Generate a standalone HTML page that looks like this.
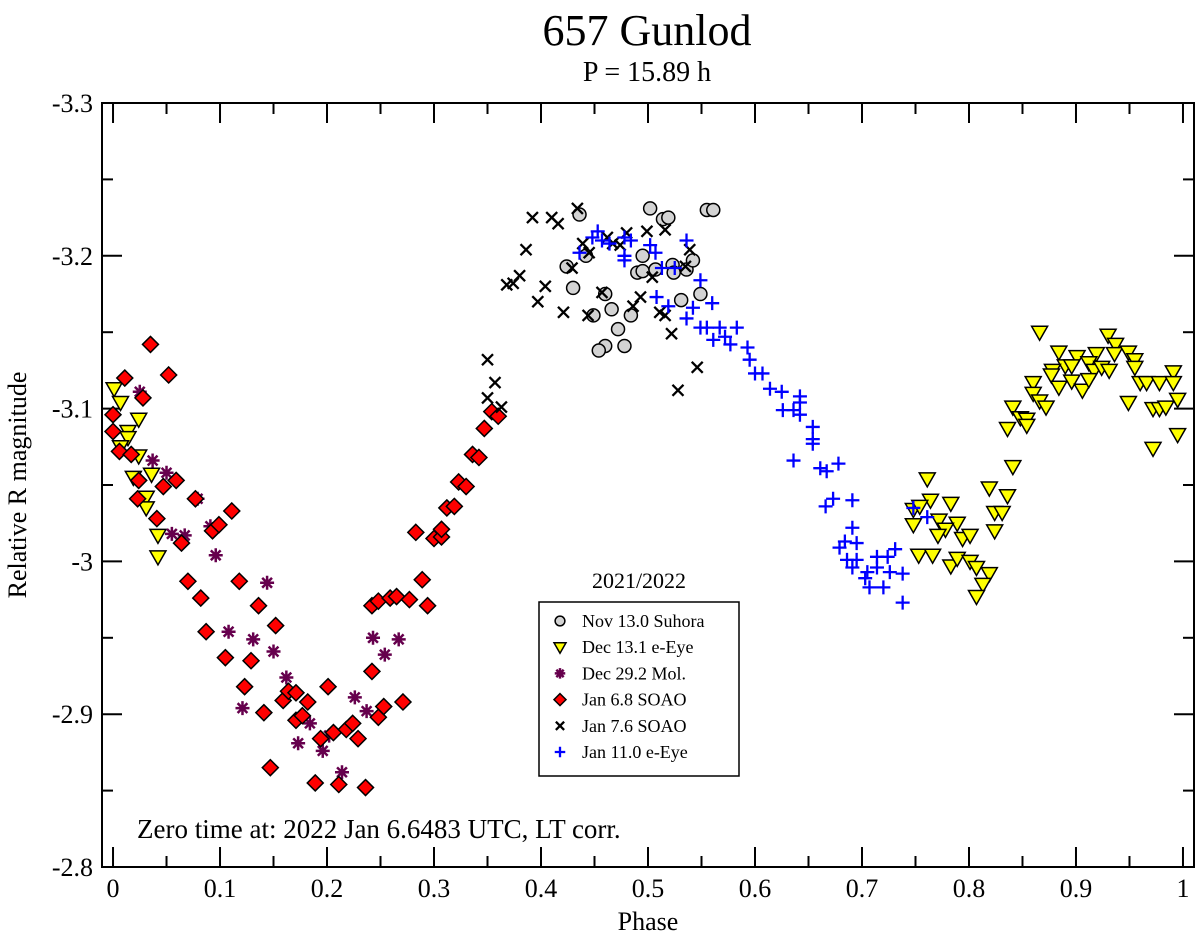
<!DOCTYPE html>
<html><head><meta charset="utf-8"><style>
body{margin:0;background:#fff;}
svg{display:block;font-family:"Liberation Serif",serif;}
</style></head><body>
<svg id="chart" width="1200" height="938" viewBox="0 0 1200 938">
<text x="647" y="45" font-size="44" text-anchor="middle">657 Gunlod</text>
<text x="647" y="81" font-size="28" text-anchor="middle">P = 15.89 h</text>
<text transform="translate(26,485) rotate(-90)" font-size="26" text-anchor="middle">Relative R magnitude</text>
<text x="648" y="930" font-size="26" text-anchor="middle">Phase</text>
<g id="axes"></g>
<g id="marks"></g>
<text x="137" y="838" font-size="27">Zero time at: 2022 Jan 6.6483 UTC, LT corr.</text>
<g id="legend"></g>
</svg>
<script>
const xTicks=[0,0.1,0.2,0.3,0.4,0.5,0.6,0.7,0.8,0.9,1];
const xTickLabels=["0","0.1","0.2","0.3","0.4","0.5","0.6","0.7","0.8","0.9","1"];
const yTicks=[-3.3,-3.2,-3.1,-3.0,-2.9,-2.8];
const yTickLabels=["-3.3","-3.2","-3.1","-3","-2.9","-2.8"];
const seriesNames=["Nov 13.0 Suhora","Dec 13.1 e-Eye","Dec 29.2 Mol.","Jan 6.8 SOAO","Jan 7.6 SOAO","Jan 11.0 e-Eye"];
const suhora=[[.502,-3.231],[.555,-3.230],[.561,-3.230],[.436,-3.227],[.514,-3.224],[.519,-3.225],[.495,-3.200],[.442,-3.200],[.424,-3.193],[.490,-3.189],[.495,-3.190],[.507,-3.191],[.523,-3.194],[.524,-3.189],[.536,-3.191],[.542,-3.197],[.430,-3.179],[.460,-3.175],[.549,-3.175],[.531,-3.171],[.466,-3.165],[.449,-3.161],[.484,-3.161],[.472,-3.152],[.460,-3.141],[.454,-3.138],[.478,-3.141]];
const eyeDec=[[.001,-3.113],[.007,-3.104],[.024,-3.093],[.014,-3.085],[.014,-3.081],[.007,-3.075],[.024,-3.069],[.019,-3.055],[.036,-3.057],[.031,-3.042],[.031,-3.035],[.042,-3.017],[.042,-3.003],
[.866,-3.150],[.930,-3.148],[.937,-3.142],[.884,-3.137],[.901,-3.134],[.919,-3.136],[.936,-3.136],[.949,-3.137],[.955,-3.132],[.912,-3.130],[.890,-3.128],[.896,-3.128],[.878,-3.125],[.917,-3.125],[.924,-3.127],[.931,-3.125],[.955,-3.127],[.991,-3.124],[.877,-3.122],[.860,-3.117],[.884,-3.114],[.896,-3.118],[.906,-3.112],[.912,-3.119],[.960,-3.117],[.966,-3.117],[.978,-3.117],[.991,-3.117],[.860,-3.110],[.866,-3.105],[.872,-3.101],[.949,-3.104],[.972,-3.100],[.978,-3.100],[.984,-3.101],[.995,-3.106],[.841,-3.101],[.848,-3.094],[.854,-3.093],[.854,-3.089],[.836,-3.087],[.972,-3.074],[.995,-3.083],[.841,-3.062],[.761,-3.054],[.819,-3.048],[.836,-3.043],[.764,-3.040],[.783,-3.038],[.748,-3.034],[.754,-3.036],[.824,-3.032],[.831,-3.032],[.772,-3.027],[.789,-3.025],[.748,-3.024],[.778,-3.021],[.771,-3.017],[.794,-3.015],[.801,-3.017],[.824,-3.020],[.753,-3.004],[.766,-3.004],[.783,-2.997],[.789,-3.002],[.801,-3.000],[.807,-2.996],[.819,-2.992],[.813,-2.985],[.807,-2.977]];
const mol=[[.025,-3.111],[.037,-3.066],[.050,-3.058],[.079,-3.041],[.055,-3.018],[.067,-3.017],[.091,-3.023],[.096,-3.004],[.144,-2.986],[.108,-2.954],[.131,-2.949],[.150,-2.941],[.162,-2.924],[.121,-2.904],[.184,-2.894],[.173,-2.881],[.202,-2.886],[.196,-2.876],[.226,-2.911],[.237,-2.902],[.214,-2.862],[.243,-2.950],[.254,-2.939],[.267,-2.949]];
const soaoJan6=[[.035,-3.142],[.052,-3.122],[.011,-3.120],[.028,-3.107],[0,-3.096],[0,-3.085],[.006,-3.072],[.017,-3.070],[.024,-3.053],[.047,-3.049],[.059,-3.053],[.023,-3.041],[.041,-3.028],[.077,-3.041],[.093,-3.020],[.099,-3.024],[.111,-3.033],[.064,-3.012],[.070,-2.987],[.082,-2.976],[.087,-2.954],[.118,-2.987],[.136,-2.971],[.152,-2.958],[.105,-2.937],[.129,-2.935],[.123,-2.918],[.141,-2.901],[.159,-2.909],[.164,-2.915],[.171,-2.914],[.182,-2.908],[.171,-2.896],[.177,-2.899],[.201,-2.918],[.194,-2.884],[.206,-2.888],[.218,-2.890],[.224,-2.894],[.229,-2.884],[.147,-2.865],[.189,-2.855],[.211,-2.854],[.236,-2.852],[.242,-2.971],[.248,-2.974],[.242,-2.928],[.248,-2.898],[.253,-2.905],[.259,-2.976],[.265,-2.977],[.277,-2.975],[.294,-2.971],[.289,-2.988],[.271,-2.908],[.283,-3.019],[.300,-3.015],[.307,-3.016],[.307,-3.021],[.312,-3.035],[.319,-3.036],[.323,-3.052],[.330,-3.049],[.336,-3.070],[.342,-3.068],[.347,-3.087],[.354,-3.098],[.360,-3.095]];
const soaoJan7=[[.434,-3.231],[.392,-3.225],[.410,-3.225],[.416,-3.221],[.386,-3.204],[.439,-3.208],[.445,-3.202],[.429,-3.192],[.380,-3.187],[.374,-3.182],[.368,-3.181],[.404,-3.180],[.397,-3.170],[.421,-3.163],[.444,-3.161],[.457,-3.176],[.474,-3.207],[.467,-3.208],[.480,-3.215],[.499,-3.216],[.516,-3.217],[.504,-3.186],[.493,-3.173],[.486,-3.167],[.511,-3.163],[.516,-3.161],[.522,-3.149],[.539,-3.204],[.535,-3.193],[.546,-3.127],[.528,-3.112],[.350,-3.132],[.357,-3.117],[.350,-3.107],[.363,-3.101],[.462,-3.212]];
const eyeJan=[[.453,-3.216],[.448,-3.212],[.436,-3.202],[.457,-3.210],[.464,-3.208],[.478,-3.212],[.484,-3.210],[.478,-3.200],[.478,-3.197],[.502,-3.207],[.507,-3.202],[.536,-3.210],[.513,-3.192],[.525,-3.192],[.549,-3.184],[.508,-3.173],[.519,-3.167],[.542,-3.166],[.536,-3.159],[.560,-3.169],[.549,-3.153],[.555,-3.153],[.567,-3.153],[.561,-3.145],[.572,-3.147],[.577,-3.142],[.583,-3.153],[.593,-3.140],[.595,-3.132],[.600,-3.123],[.607,-3.123],[.614,-3.113],[.625,-3.111],[.642,-3.108],[.642,-3.104],[.626,-3.099],[.636,-3.099],[.642,-3.096],[.654,-3.088],[.654,-3.080],[.654,-3.077],[.636,-3.066],[.661,-3.061],[.667,-3.059],[.678,-3.064],[.673,-3.041],[.666,-3.036],[.691,-3.040],[.691,-3.022],[.684,-3.013],[.679,-3.009],[.695,-3.012],[.686,-3.001],[.695,-3.001],[.691,-2.996],[.714,-3.003],[.731,-3.008],[.724,-3.003],[.714,-2.996],[.705,-2.993],[.726,-2.993],[.738,-2.992],[.703,-2.989],[.707,-2.983],[.720,-2.983],[.738,-2.973],[.748,-3.035],[.761,-3.029]];

const NS="http://www.w3.org/2000/svg";
const L=102,R=1194,T=103,B=867;
const x0=-0.0103,x1=1.0103,y0=-3.3,y1=-2.8;
function sx(p){return L+(p-x0)/(x1-x0)*(R-L);}
function sy(m){return T+(m-y0)/(y1-y0)*(B-T);}
function mk(tag,attrs,parent){const e=document.createElementNS(NS,tag);for(const k in attrs)e.setAttribute(k,attrs[k]);parent.appendChild(e);return e;}
const axes=document.getElementById('axes');
const frame=mk('rect',{x:L,y:T,width:R-L,height:B-T,fill:'none',stroke:'#000','stroke-width':2},axes);


xTicks.forEach((v,i)=>{
  const X=sx(v);
  mk('line',{x1:X,y1:B,x2:X,y2:B-20,stroke:'#000','stroke-width':2},axes);
  mk('line',{x1:X,y1:T,x2:X,y2:T+20,stroke:'#000','stroke-width':2},axes);
  if(i<xTicks.length-1){const Xm=sx(v+0.05);
    mk('line',{x1:Xm,y1:B,x2:Xm,y2:B-11,stroke:'#000','stroke-width':2},axes);
    mk('line',{x1:Xm,y1:T,x2:Xm,y2:T+11,stroke:'#000','stroke-width':2},axes);}
  const t=mk('text',{x:X,y:897,'font-size':26,'text-anchor':'middle'},axes);
  t.textContent=xTickLabels[i];
  
  
});
yTicks.forEach((v,i)=>{
  const Y=sy(v);
  mk('line',{x1:L,y1:Y,x2:L+20,y2:Y,stroke:'#000','stroke-width':2},axes);
  mk('line',{x1:R,y1:Y,x2:R-20,y2:Y,stroke:'#000','stroke-width':2},axes);
  if(i<yTicks.length-1){const Ym=sy(v+0.05);
    mk('line',{x1:L,y1:Ym,x2:L+11,y2:Ym,stroke:'#000','stroke-width':2},axes);
    mk('line',{x1:R,y1:Ym,x2:R-11,y2:Ym,stroke:'#000','stroke-width':2},axes);}
  const t=mk('text',{x:93,y:Y+9,'font-size':26,'text-anchor':'end'},axes);
  t.textContent=yTickLabels[i];
  
  
});
function drawMarker(kind,X,Y,g,s){
  s=s||1;
  if(kind==='circle') return mk('circle',{cx:X,cy:Y,r:6.5*s,fill:'#d3d3d3',stroke:'#000','stroke-width':1.5},g);
  if(kind==='tri') return mk('polygon',{points:`${X-8*s},${Y-6*s} ${X+8*s},${Y-6*s} ${X},${Y+8*s}`,fill:'#ffff00',stroke:'#000','stroke-width':1.5},g);
  if(kind==='diamond') return mk('polygon',{points:`${X},${Y-8*s} ${X+8*s},${Y} ${X},${Y+8*s} ${X-8*s},${Y}`,fill:'#ff0000',stroke:'#000','stroke-width':1.5},g);
  if(kind==='star'){const a=7*s;return mk('path',{d:`M${X-a},${Y}H${X+a}M${X},${Y-a}V${Y+a}M${X-a*.7},${Y-a*.7}L${X+a*.7},${Y+a*.7}M${X-a*.7},${Y+a*.7}L${X+a*.7},${Y-a*.7}`,stroke:'#66004d','stroke-width':2.5,fill:'none'},g);}
  if(kind==='x'){const a=5.5*s;return mk('path',{d:`M${X-a},${Y-a}L${X+a},${Y+a}M${X-a},${Y+a}L${X+a},${Y-a}`,stroke:'#000','stroke-width':2.3,fill:'none'},g);}
  if(kind==='plus'){const a=7*s;return mk('path',{d:`M${X-a},${Y}H${X+a}M${X},${Y-a}V${Y+a}`,stroke:'#0000ff','stroke-width':2.3,fill:'none'},g);}
}
const marks=document.getElementById('marks');
const series=[[suhora,'circle','suhora-point'],[eyeDec,'tri','dec-eeye-point'],[mol,'star','mol-point'],[soaoJan6,'diamond','soao-jan6-point'],[soaoJan7,'x','soao-jan7-point'],[eyeJan,'plus','jan-eeye-point']];
series.forEach(([data,kind,name])=>{
  const g=mk('g',{},marks);
  
  
  data.forEach(d=>{
    const el=drawMarker(kind,sx(d[0]),sy(d[1]),g);
    
    
  });
});
const lg=document.getElementById('legend');
const lt=mk('text',{x:639,y:588,'font-size':22,'text-anchor':'middle'},lg);
lt.textContent='2021/2022';


mk('rect',{x:539,y:602,width:200,height:174,fill:'#fff',stroke:'#000','stroke-width':1.5},lg);
const kinds=['circle','tri','star','diamond','x','plus'];
seriesNames.forEach((n,i)=>{
  const Y=621+i*26.2;
  const g=mk('g',{},lg);
  
  
  drawMarker(kinds[i],560,Y,g,0.75);
  const t=mk('text',{x:582,y:Y+6,'font-size':18},g);
  t.textContent=n;
});
</script>
</body></html>
